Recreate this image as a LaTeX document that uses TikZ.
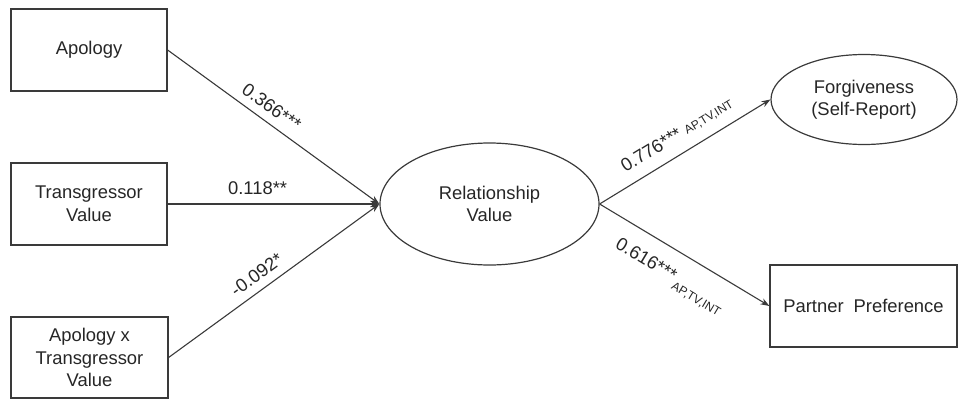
\documentclass[tikz,border=0pt]{standalone}
\usepackage{fontspec}
\setmainfont{Liberation Sans}
\usetikzlibrary{shapes.geometric,arrows.meta}
\definecolor{lineg}{HTML}{3A3A3A}
\definecolor{textg}{HTML}{262626}
\begin{document}
\begin{tikzpicture}[x=1pt,y=-1pt,
  box/.style={draw=lineg,line width=1.2pt,rectangle,inner sep=0pt,align=center,
    font=\fontsize{18.4}{22.5}\selectfont,text=textg},
  oval/.style={draw=lineg,line width=1.2pt,ellipse,inner sep=0pt,align=center,
    font=\fontsize{18.4}{22.5}\selectfont,text=textg},
  conn/.style={draw=lineg,line width=1.1pt,-{Stealth[length=9pt,width=6.5pt]}},
  lab/.style={font=\fontsize{18.4}{20}\selectfont,text=textg,sloped,inner sep=0pt}]
\useasboundingbox (0,0) rectangle (958,399);
\node[box,minimum width=156pt,minimum height=82pt] (ap) at (89,50) {Apology};
\node[box,minimum width=156pt,minimum height=82pt] (tv) at (89,204) {Transgressor\\Value};
\node[box,minimum width=157pt,minimum height=81pt] (apx) at (89.5,357.5) {Apology x\\Transgressor\\Value};
\node[oval,minimum width=219pt,minimum height=122pt] (rv) at (489.5,204) {Relationship\\Value};
\node[oval,minimum width=186pt,minimum height=90pt] (fg) at (864,99.5) {Forgiveness\\(Self-Report)};
\node[box,minimum width=187pt,minimum height=82pt] (pp) at (863.5,306) {Partner\hspace{10pt}Preference};
\draw[conn] (ap.east) -- node[lab,above=8pt,pos=0.45] {0.366***} (rv.west);
\draw[conn] (tv.east) -- node[lab,above=9pt,pos=0.425] {0.118**} (rv.west);
\draw[conn] (apx.east) -- node[lab,above=8pt,pos=0.46] {-0.092*} (rv.west);
\draw[conn] (rv.east) -- node[lab,above=11pt,pos=0.51] {0.776***\hspace{5pt}{\fontsize{12}{12}\selectfont AP,TV,INT}} (fg.west);
\draw[conn] (rv.east) -- node[lab,below=16pt,pos=0.49] {0.616***\hspace{2pt}\raisebox{-6.5pt}{\fontsize{12}{12}\selectfont AP,TV,INT}} (pp.west);
\end{tikzpicture}
\end{document}
